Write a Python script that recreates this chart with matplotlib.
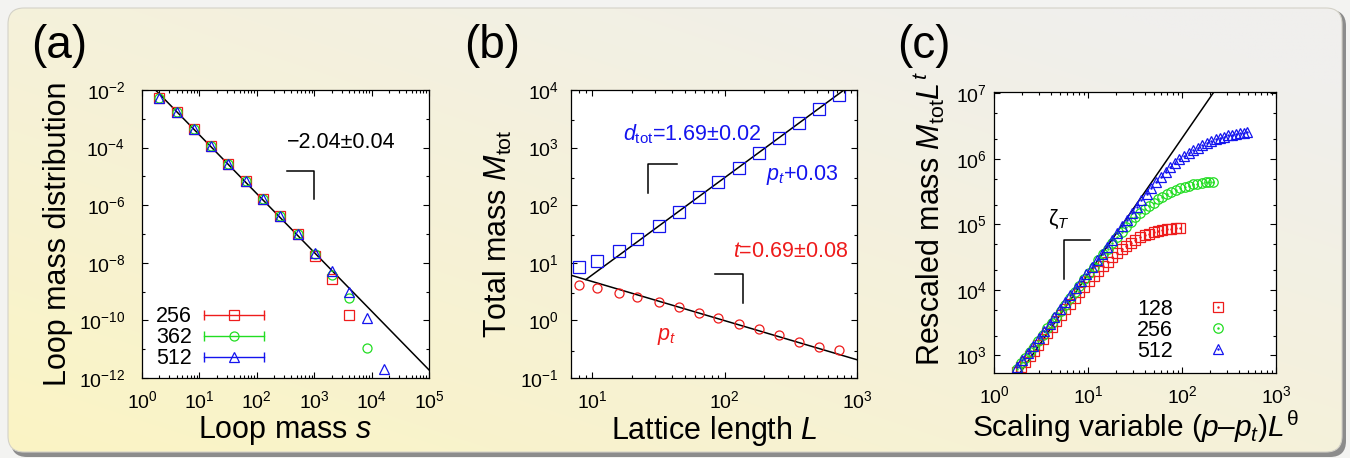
import numpy as np
import matplotlib.pyplot as plt
from matplotlib.patches import FancyBboxPatch
from matplotlib.lines import Line2D
from matplotlib.legend_handler import HandlerBase
from matplotlib.ticker import LogLocator, NullFormatter

plt.rcParams['font.family'] = ['Liberation Sans', 'DejaVu Sans']
plt.rcParams['mathtext.fontset'] = 'custom'
plt.rcParams['mathtext.rm'] = 'Liberation Sans'
plt.rcParams['mathtext.it'] = 'Liberation Sans:italic'
plt.rcParams['mathtext.bf'] = 'Liberation Sans:bold'
plt.rcParams['axes.unicode_minus'] = False

RED = '#ee1c1c'
GREEN = '#22dd22'
BLUE = '#1414ee'

# ---------------- (a) loop mass distribution ----------------
s_vals = [2, 4, 8, 16, 32, 64, 128, 256, 512, 1024, 2048, 4096, 8192, 16384]
pa_256 = [5.3e-3, 1.66e-3, 4.5e-4, 1.15e-4, 2.8e-5, 6.9e-6, 1.7e-6, 4.1e-7, 9.8e-8,
          1.74e-8, 2.7e-9, 1.5e-10]
pa_362 = [5.3e-3, 1.66e-3, 4.5e-4, 1.15e-4, 2.8e-5, 6.9e-6, 1.7e-6, 4.1e-7, 9.8e-8,
          2.0e-8, 3.7e-9, 5.8e-10, 1.07e-11]
pa_512 = [5.3e-3, 1.66e-3, 4.5e-4, 1.15e-4, 2.8e-5, 6.9e-6, 1.7e-6, 4.1e-7, 9.8e-8,
          2.24e-8, 5.2e-9, 1.0e-9, 1.17e-10, 2.1e-12]
a_labels = ['256', '362', '512']
a_exp, a_amp = -2.04, 0.0302

# ---------------- (b) total mass vs lattice length ----------------
L_vals = [8, 11, 16, 22, 32, 45, 64, 90, 128, 181, 256, 362, 512, 724]
m_upper = [8.4, 10.7, 16, 26, 44, 76, 137, 251, 447, 810, 1470, 2630, 4680, 8300]
m_crit = [4.1, 3.6, 3.0, 2.5, 2.08, 1.73, 1.33, 1.09, 0.865, 0.70, 0.55, 0.43, 0.34, 0.31]
b_up_exp, b_up_amp = 1.69, 0.125
b_dn_exp, b_dn_amp = -0.68, 22.7

# ---------------- (c) rescaled mass vs scaling variable ----------------
xc_128 = [1.76, 1.95, 2.15, 2.4, 2.65, 2.95, 3.3, 3.7, 4.1, 4.6, 5.1, 5.7, 6.4, 7.2,
          8.1, 9.1, 10.2, 11.5, 12.9, 14.5, 16.2, 18.2, 20.4, 22.8, 25.5, 28.5, 32,
          35.5, 40, 44.5, 50, 56, 62, 69, 77, 86, 95]
yc_128 = [550, 661, 794, 977, 1170, 1450, 1780, 2190, 2690, 3310, 4070, 5010, 6170,
          7590, 9330, 11200, 13500, 16200, 19500, 22900, 26900, 31600, 36300, 41700,
          46800, 52500, 57500, 63100, 67600, 72400, 75900, 79400, 82200, 84100, 86100,
          87100, 88100]
xc_256 = [1.76, 1.95, 2.15, 2.4, 2.65, 2.95, 3.3, 3.7, 4.1, 4.6, 5.1, 5.7, 6.4, 7.2,
          8.1, 9.1, 10.2, 11.5, 12.9, 14.5, 16.2, 18.2, 20.4, 22.8, 25.5, 28.5, 32,
          35.5, 40, 44.5, 50, 56, 62, 69, 77, 86, 96, 107, 119, 132, 146, 162, 179,
          196, 214]
yc_256 = [617, 759, 912, 1120, 1350, 1660, 2040, 2570, 3160, 3890, 4790, 5890, 7410,
          9120, 11500, 14500, 17800, 22400, 28200, 34700, 42700, 52500, 63100, 75900,
          91200, 110000, 129000, 148000, 170000, 191000, 214000, 240000, 263000,
          288000, 309000, 331000, 355000, 372000, 389000, 407000, 417000, 427000,
          437000, 442000, 447000]
xc_512 = [1.76, 2.0, 2.3, 2.6, 3.0, 3.4, 3.9, 4.4, 5.0, 5.7, 6.5, 7.4, 8.4, 9.6, 11,
          12.5, 14, 16, 18, 20.5, 23, 26, 29.5, 33, 37, 42, 47, 53, 60, 67, 75, 84, 94,
          105, 118, 132, 148, 165, 185, 205, 228, 252, 280, 310, 342, 378, 415, 452, 490]
yc_512 = [661, 851, 1096, 1380, 1820, 2340, 3020, 3800, 5010, 6460, 8320, 10500, 13500,
          17400, 22400, 28200, 35500, 45700, 57500, 74100, 93300, 117000, 148000,
          186000, 234000, 295000, 363000, 447000, 537000, 631000, 741000, 851000,
          977000, 1.10e6, 1.23e6, 1.35e6, 1.48e6, 1.62e6, 1.74e6, 1.86e6, 2.00e6,
          2.09e6, 2.19e6, 2.29e6, 2.34e6, 2.40e6, 2.45e6, 2.51e6, 2.57e6]
c_labels = ['128', '256', '512']
c_exp, c_amp = 2.08, 143


class KeyErrorbar(HandlerBase):
    # gnuplot style key: horizontal bar with end caps and the point symbol in the middle
    def create_artists(self, legend, orig, xd, yd, width, height, fontsize, trans):
        y0 = height / 2 - yd
        x0, x1 = -xd, width - xd
        col = orig.get_markeredgecolor()
        bar = Line2D([x0, x1], [y0, y0], color=col, lw=1.0)
        caps = Line2D([x0, x1], [y0, y0], ls='none', marker='|', ms=7, mew=1.0, color=col)
        mk = Line2D([(x0 + x1) / 2], [y0], ls='none', marker=orig.get_marker(),
                    ms=orig.get_markersize(), mfc='none', mec=col,
                    mew=orig.get_markeredgewidth())
        for art in (bar, caps, mk):
            art.set_transform(trans)
        return [bar, caps, mk]


def style_axes(ax, ymajor, yminor, ypad):
    ax.set_xscale('log')
    ax.set_yscale('log')
    ax.xaxis.set_major_locator(LogLocator(base=10, numticks=20))
    ax.xaxis.set_minor_locator(LogLocator(base=10, subs=np.arange(2, 10), numticks=20))
    ax.yaxis.set_major_locator(ymajor)
    ax.yaxis.set_minor_locator(yminor)
    ax.xaxis.set_minor_formatter(NullFormatter())
    ax.yaxis.set_minor_formatter(NullFormatter())
    ax.tick_params(which='both', direction='in', top=True, right=True, width=0.8,
                   labelsize=14)
    ax.tick_params(which='major', length=4)
    ax.tick_params(which='minor', length=2)
    ax.tick_params(axis='x', which='major', pad=9)
    ax.tick_params(axis='y', which='major', pad=ypad)
    for sp in ax.spines.values():
        sp.set_linewidth(0.9)


W, H = 1350, 458
fig = plt.figure(figsize=(13.5, 4.58), dpi=100)
fig.patch.set_facecolor('#f3f3f1')

# rounded yellow panel behind the three plots
bg = fig.add_axes([0, 0, 1, 1], zorder=-10)
bg.axis('off')
shadow = FancyBboxPatch((11, 1), W - 15, H - 11, boxstyle='round,pad=0,rounding_size=16',
                        fc='#8c8c8c', ec='none', zorder=0)
bg.add_patch(shadow)
panel = FancyBboxPatch((8, 6), W - 16, H - 14, boxstyle='round,pad=0,rounding_size=16',
                       fc='none', ec='#d4d2c8', lw=0.8, zorder=2)
bg.add_patch(panel)
gx, gy = np.meshgrid(np.linspace(0, 1, 300), np.linspace(0, 1, 120))
t = np.clip(0.55 * gx + 0.55 * gy, 0, 1)[..., None]
c0 = np.array([251, 244, 196]) / 255
c1 = np.array([240, 239, 237]) / 255
grad = c0 * (1 - t) + c1 * t
im = bg.imshow(grad, extent=(8, W - 8, 6, H - 8), origin='lower', aspect='auto',
               interpolation='bilinear', zorder=1)
im.set_clip_path(panel)
bg.set_xlim(0, W)
bg.set_ylim(0, H)

# ---------------- panel (a) ----------------
axa = fig.add_axes([0.1052, 0.1747, 0.2126, 0.6288])
style_axes(axa, LogLocator(base=100, numticks=20),
           LogLocator(base=100, subs=[10.0], numticks=20), 12)
sgrid = np.logspace(0, 5, 50)
axa.plot(sgrid, a_amp * sgrid ** a_exp, color='black', lw=1.1, zorder=1)
ha = []
for vals, mk, col, ms in [(pa_256, 's', RED, 7.5), (pa_362, 'o', GREEN, 6.5),
                          (pa_512, '^', BLUE, 7.5)]:
    h, = axa.plot(s_vals[:len(vals)], vals, ls='none', marker=mk, ms=ms, mfc='none',
                  mec=col, mew=0.9, zorder=2)
    ha.append(h)
axa.set_xlim(1, 1e5)
axa.set_ylim(1e-12, 1e-2)
axa.set_xlabel('Loop mass $s$', fontsize=22, labelpad=1)
axa.set_ylabel('Loop mass distribution', fontsize=22, labelpad=4)
axa.legend(ha, a_labels, handler_map={Line2D: KeyErrorbar()}, loc='lower left',
           bbox_to_anchor=(0.05, 0.03), frameon=False, markerfirst=False,
           fontsize=15.5, handlelength=2.8, handletextpad=0.55, labelspacing=0.0,
           borderpad=0, borderaxespad=0)
axa.text(0.505, 0.816, '\u22122.04\u00b10.04', transform=axa.transAxes, fontsize=15.5,
         ha='left', va='center')
axa.plot([0.505, 0.599, 0.599], [0.719, 0.719, 0.622], color='black', lw=1.1,
         transform=axa.transAxes)
axa.text(-0.385, 1.153, '(a)', transform=axa.transAxes, fontsize=33, va='center')

# ---------------- panel (b) ----------------
axb = fig.add_axes([0.4230, 0.1747, 0.2119, 0.6288])
style_axes(axb, LogLocator(base=10, numticks=20),
           LogLocator(base=10, subs=[3.0], numticks=20), 9)
lg_up = np.logspace(np.log10(9.0), 3, 30)
lg_dn = np.logspace(np.log10(7.0), 3, 30)
axb.plot(lg_up, b_up_amp * lg_up ** b_up_exp, color='black', lw=1.1, zorder=1)
axb.plot(lg_dn, b_dn_amp * lg_dn ** b_dn_exp, color='black', lw=1.1, zorder=1)
axb.plot(L_vals, m_upper, ls='none', marker='s', ms=8, mfc='none', mec=BLUE, mew=0.9)
axb.plot(L_vals, m_crit, ls='none', marker='o', ms=6.5, mfc='none', mec=RED, mew=0.9)
axb.set_xlim(10 ** 0.842, 1e3)
axb.set_ylim(1e-1, 1e4)
axb.set_xlabel('Lattice length $L$', fontsize=22, labelpad=1)
axb.set_ylabel(r'Total mass $M_{\mathrm{tot}}$', fontsize=22, labelpad=4)
axb.text(0.182, 0.824, '$d_{\\mathrm{tot}}$=1.69\u00b10.02',
         transform=axb.transAxes, fontsize=15.5, color=BLUE, ha='left', va='baseline')
axb.text(0.682, 0.688, '$p_t$+0.03', transform=axb.transAxes, fontsize=15.5,
         color=BLUE, ha='left', va='baseline')
axb.text(0.567, 0.419, '$t$=0.69\u00b10.08', transform=axb.transAxes, fontsize=15.5,
         color=RED, ha='left', va='baseline')
axb.text(0.301, 0.132, '$p_t$', transform=axb.transAxes, fontsize=15.5, color=RED,
         ha='left', va='baseline')
axb.plot([0.269, 0.269, 0.371], [0.642, 0.743, 0.743], color='black', lw=1.1,
         transform=axb.transAxes)
axb.plot([0.503, 0.601, 0.601], [0.361, 0.361, 0.260], color='black', lw=1.1,
         transform=axb.transAxes)
axb.text(-0.375, 1.153, '(b)', transform=axb.transAxes, fontsize=33, va='center')

# ---------------- panel (c) ----------------
axc = fig.add_axes([0.7363, 0.1856, 0.2089, 0.6135])
style_axes(axc, LogLocator(base=10, numticks=20),
           LogLocator(base=10, subs=[2.0, 5.0], numticks=20), 5)
xg = np.logspace(np.log10(1.6), np.log10(300), 30)
axc.plot(xg, c_amp * xg ** c_exp, color='black', lw=1.1, zorder=1)
hc = []
for xs, ys, mk, col, ms in [(xc_128, yc_128, 's', RED, 7.0),
                            (xc_256, yc_256, 'o', GREEN, 6.8),
                            (xc_512, yc_512, '^', BLUE, 7.8)]:
    h1, = axc.plot(xs, ys, ls='none', marker=mk, ms=ms, mfc='none', mec=col, mew=0.9,
                   zorder=2)
    h2, = axc.plot(xs, ys, ls='none', marker='.', ms=1.5, color=col, zorder=2)
    hc.append((h1, h2))
axc.set_xlim(1, 1e3)
axc.set_ylim(10 ** 2.73, 10 ** 7.02)
axc.set_xlabel('Scaling variable ($p$\u2013$p_t$)$L^{\\mathrm{\\theta}}$',
               fontsize=21.5, labelpad=1)
axc.set_ylabel(r'Rescaled mass $M_{\mathrm{tot}}L^{t}$', fontsize=22)
axc.yaxis.set_label_coords(-0.165, 0.55)
axc.legend(hc, c_labels, loc='lower right', bbox_to_anchor=(0.872, 0.04),
           frameon=False, markerfirst=False, fontsize=15.5, handlelength=2.0,
           handletextpad=1.1, labelspacing=0.0, borderpad=0, borderaxespad=0)
axc.text(0.191, 0.527, r'$\mathrm{\zeta}_T$', transform=axc.transAxes, fontsize=15.5,
         ha='left', va='baseline')
axc.plot([0.248, 0.248, 0.340], [0.335, 0.473, 0.473], color='black', lw=1.1,
         transform=axc.transAxes)
axc.text(-0.345, 1.164, '(c)', transform=axc.transAxes, fontsize=33, va='center')

fig.savefig('out.png', dpi=100, facecolor=fig.get_facecolor())
